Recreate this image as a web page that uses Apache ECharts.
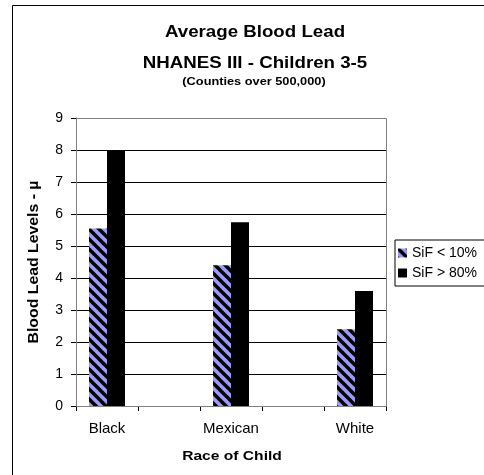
<!DOCTYPE html>
<html><head><meta charset="utf-8">
<script src="https://cdn.jsdelivr.net/npm/echarts@6/dist/echarts.min.js"></script>
<style>html,body{margin:0;padding:0;background:#fff}#c{width:484px;height:475px}</style>
</head><body><div id="c"></div>
<script>
var categories = ['Black', '', 'Mexican', '', 'White'];
var seriesNames = ['SiF < 10%', 'SiF > 80%'];
var lowSiF = [5.55, '-', 4.4, '-', 2.4];
var highSiF = [7.97, '-', 5.74, '-', 3.59];
var yTicks = [0, 1, 2, 3, 4, 5, 6, 7, 8, 9];
var titleLines = ['Average Blood Lead', 'NHANES III - Children 3-5', '(Counties over 500,000)'];
var xName = 'Race of Child';
var yName = 'Blood Lead Levels - µ';

var pc = document.createElement('canvas');
pc.width = 10; pc.height = 10;
var g = pc.getContext('2d');
g.fillStyle = '#9999FF'; g.fillRect(0, 0, 10, 10);
g.strokeStyle = '#000'; g.lineWidth = 3.4;
[-10, 0, 10].forEach(function (o) {
  g.beginPath(); g.moveTo(o - 2, -2); g.lineTo(o + 12, 12); g.stroke();
});

var chart = echarts.init(document.getElementById('c'), null, {renderer: 'canvas'});
var font = 'Liberation Sans, Arial, sans-serif';
function txt(t, x, y, size, sx, rot) {
  return {type: 'text', x: x, y: y, scaleX: sx, rotation: rot || 0, silent: true,
    style: {text: t, fill: '#000', font: 'bold ' + size + 'px ' + font,
      textAlign: 'center', textVerticalAlign: 'middle'}};
}
chart.setOption({
  animation: false,
  textStyle: {fontFamily: font},
  graphic: [
    {type: 'rect', shape: {x: 12.5, y: 5.5, width: 600, height: 600},
     style: {fill: 'none', stroke: '#000', lineWidth: 1}, silent: true, z: -1},
    {type: 'rect', shape: {x: 76.5, y: 118.5, width: 310, height: 288},
     style: {fill: 'none', stroke: '#808080', lineWidth: 1}, silent: true, z: 10},
    txt(titleLines[0], 255, 32, 17, 1.1),
    txt(titleLines[1], 255, 63, 17, 1.1),
    txt(titleLines[2], 254, 82, 11, 1.16),
    txt(xName, 232, 456, 13, 1.2),
    txt(yName, 34, 262, 14, 1.13, Math.PI / 2)
  ],
  legend: {
    orient: 'vertical', left: 395, top: 240,
    data: seriesNames,
    borderColor: '#000', borderWidth: 1,
    padding: [6, 30, 6, 3],
    itemGap: 6, itemWidth: 9, itemHeight: 9,
    icon: 'rect',
    textStyle: {fontSize: 14, color: '#000', fontFamily: font, padding: [0, 0, 0, 0]}
  },
  grid: {left: 76, right: 98, top: 118, bottom: 69, containLabel: false},
  xAxis: {
    type: 'category', data: categories,
    axisLine: {lineStyle: {color: '#808080', width: 1}},
    axisTick: {show: true, interval: 0, length: 5, lineStyle: {color: '#000'}},
    axisLabel: {interval: 0, fontSize: 15, color: '#000', margin: 15, fontFamily: font},
    splitLine: {show: false}
  },
  yAxis: {
    type: 'value', min: 0, max: 9, interval: 1,
    axisLine: {show: true, lineStyle: {color: '#808080'}},
    axisTick: {show: true, length: 5, inside: false, lineStyle: {color: '#000'}},
    axisLabel: {fontSize: 14, color: '#000', margin: 13, fontFamily: font,
      formatter: function (v) { return yTicks.indexOf(v) >= 0 ? String(v) : ''; }},
    splitLine: {show: true, lineStyle: {color: '#000', width: 1}}
  },
  series: [
    {name: seriesNames[0], type: 'bar', data: lowSiF, barWidth: 18, barGap: '0%',
     itemStyle: {color: {image: pc, repeat: 'repeat'}}},
    {name: seriesNames[1], type: 'bar', data: highSiF, barWidth: 18, barGap: '0%',
     itemStyle: {color: '#000'}}
  ]
});
</script></body></html>
